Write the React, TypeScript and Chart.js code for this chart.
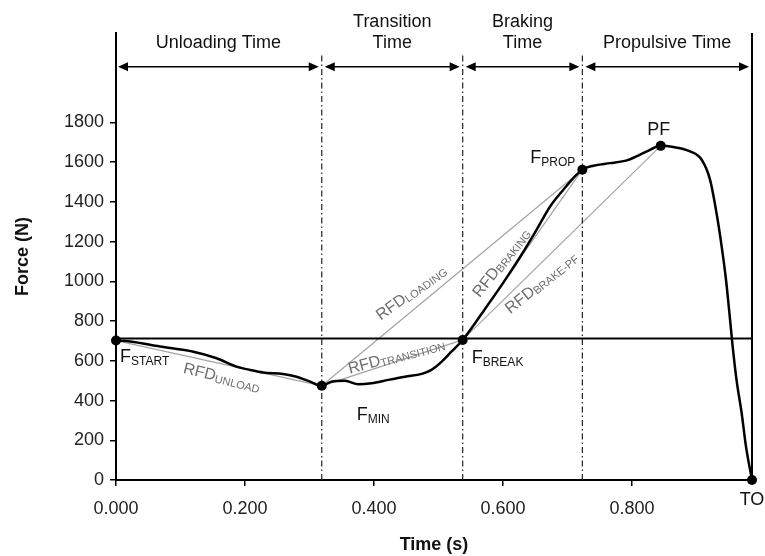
import React, { useEffect, useRef } from 'react';
import { Chart, registerables } from 'chart.js';

Chart.register(...registerables);

// ---------- data ----------
const TIME_S = [
  0, 0.022, 0.068, 0.12, 0.156, 0.187, 0.208, 0.228, 0.259, 0.28, 0.301, 0.319,
  0.334, 0.355, 0.376, 0.396, 0.422, 0.448, 0.474, 0.489, 0.505, 0.52, 0.5375,
  0.571, 0.6, 0.627, 0.652, 0.673, 0.6935, 0.709, 0.723,
  0.74, 0.766, 0.792, 0.807, 0.823, 0.8445, 0.864, 0.89, 0.908, 0.921, 0.931,
  0.939, 0.9457, 0.951, 0.956, 0.962, 0.97, 0.9767, 0.986,
];
const FORCE_N = [
  702, 697, 672, 646, 613, 571, 554, 541, 534, 520, 495, 474,
  495, 499, 482, 487, 504, 520, 534, 554, 596, 646, 705,
  856, 991, 1125, 1259, 1377, 1461, 1520, 1562,
  1582, 1595, 1609, 1629, 1654, 1682, 1676, 1654, 1612, 1511, 1344,
  1175, 1008, 840, 672, 504, 336, 168, 0,
];

const KEY_NAMES = ['F', 'F', 'F', 'F', 'PF', 'TO'];
const KEY_SUBS = ['START', 'MIN', 'BREAK', 'PROP', '', ''];
const KEY_TIME_S = [0, 0.319, 0.5375, 0.723, 0.8445, 0.986];
const KEY_FORCE_N = [702, 474, 705, 1562, 1682, 0];

const PHASE_EDGES_S = [0, 0.319, 0.5375, 0.723, 0.986];
const PHASE_LABELS = [['Unloading Time'], ['Transition', 'Time'], ['Braking', 'Time'], ['Propulsive Time']];

const BODY_WEIGHT_N = 712;

const RFD_SUBS = ['UNLOAD', 'TRANSITION', 'LOADING', 'BRAKING', 'BRAKE-PF'];
const RFD_FROM = [0, 1, 1, 2, 2];
const RFD_TO = [1, 2, 3, 3, 4];

const X_TICKS = [0, 0.2, 0.4, 0.6, 0.8];
const Y_TICKS = [0, 200, 400, 600, 800, 1000, 1200, 1400, 1600, 1800];
const X_MAX = 0.986;
const Y_MAX = 2250;

// ---------- layout / style ----------
const FONT = "'Liberation Sans', Arial, Helvetica, sans-serif";
const ARROW_LEVEL_N = 2080;
const EDGE_TOP_N = 2140;
const KEY_LABEL_LAYOUT = [
  { dx: 4, dy: 21, align: 'left' },
  { dx: 35, dy: 34, align: 'left' },
  { dx: 9, dy: 23, align: 'left' },
  { dx: -7, dy: -7, align: 'right' },
  { dx: -2, dy: -11, align: 'center' },
  { dx: 0, dy: 25, align: 'center' },
];
// label centre in data units + rotation (deg)
const RFD_LABEL_LAYOUT = [
  { t: 0.164, f: 514, angle: 14 },
  { t: 0.435, f: 621, angle: -15 },
  { t: 0.458, f: 941, angle: -36 },
  { t: 0.598, f: 1092, angle: -52 },
  { t: 0.66, f: 991, angle: -39 },
];

function drawSub(
  ctx: CanvasRenderingContext2D,
  main: string,
  sub: string,
  x: number,
  y: number,
  align: string,
  mainSize: number,
  subSize: number,
  color: string,
  angleDeg: number,
  subDrop: number,
  baseline: CanvasTextBaseline,
) {
  ctx.save();
  ctx.fillStyle = color;
  ctx.textBaseline = baseline;
  ctx.textAlign = 'left';
  ctx.font = `${mainSize}px ${FONT}`;
  const wm = ctx.measureText(main).width;
  ctx.font = `${subSize}px ${FONT}`;
  const ws = sub ? ctx.measureText(sub).width : 0;
  const w = wm + ws;
  ctx.translate(x, y);
  ctx.rotate((angleDeg * Math.PI) / 180);
  let sx = 0;
  if (align === 'center') sx = -w / 2;
  else if (align === 'right') sx = -w;
  ctx.font = `${mainSize}px ${FONT}`;
  ctx.fillText(main, sx, 0);
  if (sub) {
    ctx.font = `${subSize}px ${FONT}`;
    ctx.fillText(sub, sx + wm, subDrop);
  }
  ctx.restore();
}

const annotationPlugin = {
  id: 'cmjAnnotations',
  afterDatasetsDraw(chart: any) {
    const { ctx, scales } = chart;
    const xs = scales.x;
    const ys = scales.y;
    ctx.save();

    // phase arrows + labels
    const ay = ys.getPixelForValue(ARROW_LEVEL_N);
    ctx.strokeStyle = '#000';
    ctx.fillStyle = '#000';
    ctx.lineWidth = 1.5;
    for (let i = 0; i < PHASE_EDGES_S.length - 1; i++) {
      const x0 = xs.getPixelForValue(PHASE_EDGES_S[i]) + (i === 0 ? 2 : 3);
      const x1 = xs.getPixelForValue(PHASE_EDGES_S[i + 1]) - 3;
      ctx.beginPath();
      ctx.moveTo(x0 + 6, ay);
      ctx.lineTo(x1 - 6, ay);
      ctx.stroke();
      ctx.beginPath();
      ctx.moveTo(x0, ay);
      ctx.lineTo(x0 + 10, ay - 4.5);
      ctx.lineTo(x0 + 10, ay + 4.5);
      ctx.closePath();
      ctx.fill();
      ctx.beginPath();
      ctx.moveTo(x1, ay);
      ctx.lineTo(x1 - 10, ay - 4.5);
      ctx.lineTo(x1 - 10, ay + 4.5);
      ctx.closePath();
      ctx.fill();

      const cx = (x0 + x1) / 2;
      const lines = PHASE_LABELS[i];
      ctx.font = `18px ${FONT}`;
      ctx.textAlign = 'center';
      ctx.textBaseline = 'middle';
      ctx.fillStyle = '#111';
      lines.forEach((ln, k) => {
        const yy = ay - 24 - (lines.length - 1 - k) * 21;
        ctx.fillText(ln, cx, yy);
      });
      ctx.fillStyle = '#000';
    }

    // key point labels
    for (let i = 0; i < KEY_NAMES.length; i++) {
      const px = xs.getPixelForValue(KEY_TIME_S[i]);
      const py = ys.getPixelForValue(KEY_FORCE_N[i]);
      const L = KEY_LABEL_LAYOUT[i];
      drawSub(ctx, KEY_NAMES[i], KEY_SUBS[i], px + L.dx, py + L.dy, L.align, 18, 12, '#111', 0, 3, 'alphabetic');
    }

    // RFD labels
    for (let i = 0; i < RFD_SUBS.length; i++) {
      const L = RFD_LABEL_LAYOUT[i];
      const px = xs.getPixelForValue(L.t);
      const py = ys.getPixelForValue(L.f);
      drawSub(ctx, 'RFD', RFD_SUBS[i], px, py, 'center', 16, 11, '#6e6e6e', L.angle, 3, 'middle');
    }
    ctx.restore();
  },
};

export default function App() {
  const ref = useRef<HTMLCanvasElement | null>(null);

  useEffect(() => {
    if (!ref.current) return;
    const pts = (xa: number[], ya: number[]) => xa.map((v, i) => ({ x: v, y: ya[i] }));

    const datasets: any[] = [];
    // key dots
    datasets.push({
      data: pts(KEY_TIME_S, KEY_FORCE_N),
      showLine: false,
      pointRadius: 5,
      pointBackgroundColor: '#000',
      pointBorderColor: '#000',
      pointBorderWidth: 0,
      clip: false,
      order: 1,
    });
    // main force curve
    datasets.push({
      data: pts(TIME_S, FORCE_N),
      showLine: true,
      borderColor: '#000',
      borderWidth: 2.5,
      pointRadius: 0,
      cubicInterpolationMode: 'monotone',
      clip: false,
      order: 2,
    });
    // RFD lines
    for (let i = 0; i < RFD_SUBS.length; i++) {
      const a = RFD_FROM[i];
      const b = RFD_TO[i];
      datasets.push({
        data: [
          { x: KEY_TIME_S[a], y: KEY_FORCE_N[a] },
          { x: KEY_TIME_S[b], y: KEY_FORCE_N[b] },
        ],
        showLine: true,
        borderColor: '#a3a3a3',
        borderWidth: 1.2,
        pointRadius: 0,
        order: 5,
      });
    }
    // phase boundaries
    for (let i = 1; i < PHASE_EDGES_S.length - 1; i++) {
      datasets.push({
        data: [
          { x: PHASE_EDGES_S[i], y: 0 },
          { x: PHASE_EDGES_S[i], y: EDGE_TOP_N },
        ],
        showLine: true,
        borderColor: '#222',
        borderWidth: 1.2,
        borderDash: [6, 3, 1.5, 3],
        pointRadius: 0,
        order: 4,
      });
    }
    // body weight
    datasets.push({
      data: [
        { x: 0, y: BODY_WEIGHT_N },
        { x: X_MAX, y: BODY_WEIGHT_N },
      ],
      showLine: true,
      borderColor: '#000',
      borderWidth: 2,
      pointRadius: 0,
      order: 4,
    });
    // take-off vertical
    datasets.push({
      data: [
        { x: X_MAX, y: 0 },
        { x: X_MAX, y: Y_MAX },
      ],
      showLine: true,
      borderColor: '#000',
      borderWidth: 2,
      pointRadius: 0,
      clip: false,
      order: 4,
    });

    const chart = new Chart(ref.current, {
      type: 'scatter',
      data: { datasets },
      options: {
        animation: false,
        responsive: false,
        maintainAspectRatio: false,
        layout: { padding: { top: 33, right: 13, left: 0, bottom: 0 } },
        plugins: { legend: { display: false }, tooltip: { enabled: false } },
        scales: {
          x: {
            type: 'linear',
            min: 0,
            max: X_MAX,
            afterBuildTicks: (s: any) => {
              s.ticks = X_TICKS.map((v) => ({ value: v }));
            },
            afterFit: (s: any) => {
              s.height = 76;
            },
            ticks: {
              font: { family: FONT, size: 18 },
              color: '#222',
              padding: 12,
              maxRotation: 0,
              autoSkip: false,
              callback: (v: any) => Number(v).toFixed(3),
            },
            grid: { drawOnChartArea: false, drawTicks: true, tickLength: 6, color: '#000', lineWidth: 1.5 },
            border: { display: true, color: '#000', width: 2 },
            title: {
              display: true,
              text: 'Time (s)',
              font: { family: FONT, size: 18, weight: 'bold' },
              color: '#111',
              padding: { top: 0, bottom: 0 },
            },
          },
          y: {
            type: 'linear',
            min: 0,
            max: Y_MAX,
            afterBuildTicks: (s: any) => {
              s.ticks = Y_TICKS.map((v) => ({ value: v }));
            },
            afterFit: (s: any) => {
              s.width = 116;
            },
            ticks: {
              font: { family: FONT, size: 18 },
              color: '#222',
              padding: 6,
              autoSkip: false,
              callback: (v: any) => String(v),
            },
            grid: { drawOnChartArea: false, drawTicks: true, tickLength: 6, color: '#000', lineWidth: 1.5 },
            border: { display: true, color: '#000', width: 2 },
            title: {
              display: true,
              text: 'Force (N)',
              font: { family: FONT, size: 18, weight: 'bold' },
              color: '#111',
              padding: { top: 12, bottom: 0 },
            },
          },
        },
      },
      plugins: [annotationPlugin],
    } as any);
    return () => chart.destroy();
  }, []);

  return (
    <div style={{ position: 'absolute', left: 0, top: 0, width: 765, height: 556, background: '#fff' }}>
      <canvas ref={ref} width={765} height={556} style={{ display: 'block', width: 765, height: 556 }} />
    </div>
  );
}
